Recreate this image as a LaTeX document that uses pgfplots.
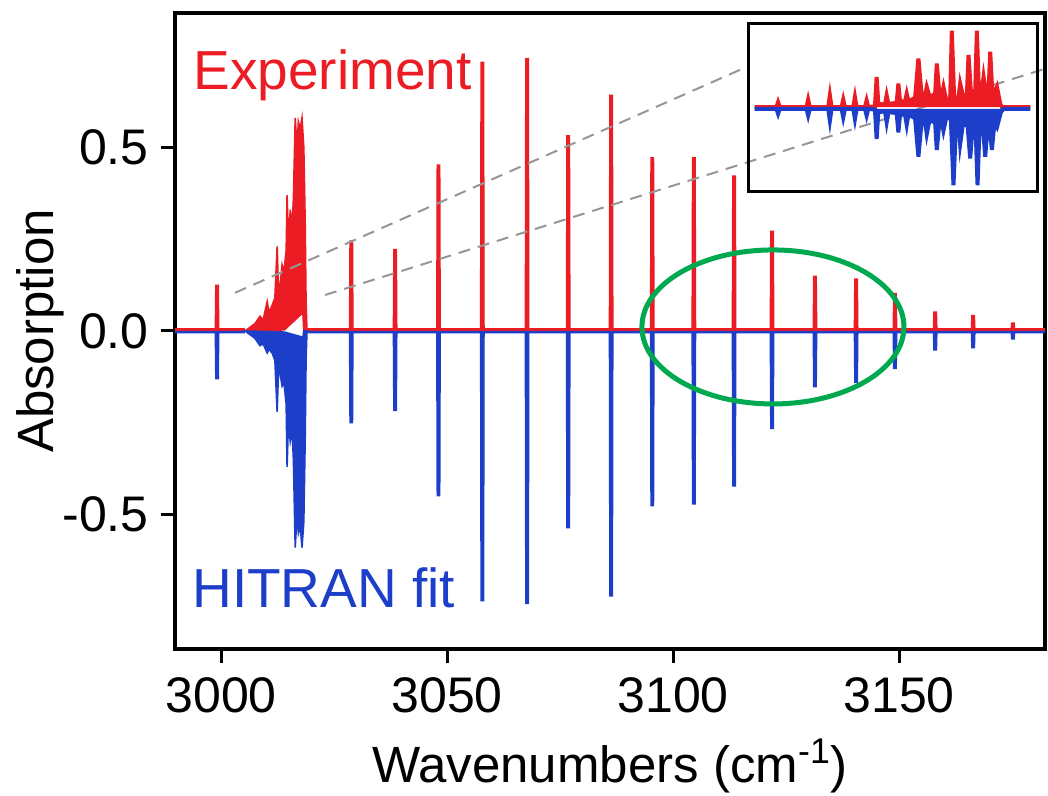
\documentclass[border=0pt]{standalone}
\usepackage{fontspec}
\setmainfont{Liberation Sans}
\usepackage{pgfplots}
\pgfplotsset{compat=1.18}
\definecolor{expred}{RGB}{236,28,36}
\definecolor{fitblue}{RGB}{28,62,200}
\definecolor{ringgreen}{RGB}{0,168,80}
\definecolor{dashgray}{RGB}{150,150,150}
\begin{document}
\begin{tikzpicture}
\begin{axis}[
  at={(0,0)}, anchor=south west,
  width=435pt, height=318pt, scale only axis,
  xmin=2989.8, xmax=3182.3, ymin=-0.866, ymax=0.866,
  xtick={3000,3050,3100,3150},
  xticklabels={3000,3050,3100,3150},
  ytick={-0.5,0,0.5},
  yticklabels={-0.5,0.0,0.5},
  tick pos=left, tick align=outside,
  major tick length=7pt,
  every tick/.style={black, line width=1.5pt},
  axis line style={line width=1.6pt},
  /pgf/number format/assume math mode=true,
  tick label style={font=\fontsize{25}{30}\selectfont, inner sep=0pt},
  xticklabel style={anchor=north, yshift=-7pt},
  yticklabel style={anchor=east, xshift=-6pt},
  xlabel={Wavenumbers (cm\textsuperscript{-1})},
  ylabel={Absorption},
  label style={font=\fontsize{25.5}{30}\selectfont, inner sep=0pt},
  xlabel style={at={(axis description cs:0.5,0)}, anchor=base, yshift=-66.5pt},
  ylabel style={at={(axis description cs:0,0.5)}, anchor=center, yshift=67.5pt},
  clip=false,
]
% experiment baseline and lines
\addplot[expred, line width=1.3pt] coordinates {
(2989.8,0.004) (2998.85,0.004) (2998.95,0.123) (2999.25,0.123) (2999.35,0.004) (3005.3,0.004)};
\addplot[expred, line width=1.3pt] coordinates {
(3019.0,0.004)
(3028.55,0.004) (3028.65,0.243) (3028.95,0.243) (3029.05,0.004)
(3038.25,0.004) (3038.35,0.220) (3038.65,0.220) (3038.75,0.004)
(3047.85,0.004) (3047.95,0.450) (3048.25,0.450) (3048.35,0.004)
(3057.55,0.004) (3057.65,0.730) (3057.95,0.730) (3058.05,0.004)
(3067.45,0.004) (3067.55,0.740) (3067.85,0.740) (3067.95,0.004)
(3076.55,0.004) (3076.65,0.530) (3076.95,0.530) (3077.05,0.004)
(3086.05,0.004) (3086.15,0.640) (3086.45,0.640) (3086.55,0.004)
(3095.15,0.004) (3095.25,0.470) (3095.55,0.470) (3095.65,0.004)
(3104.35,0.004) (3104.45,0.470) (3104.75,0.470) (3104.85,0.004)
(3113.25,0.004) (3113.35,0.420) (3113.65,0.420) (3113.75,0.004)
(3121.65,0.004) (3121.75,0.270) (3122.05,0.270) (3122.15,0.004)
(3131.15,0.004) (3131.25,0.147) (3131.55,0.147) (3131.65,0.004)
(3140.25,0.004) (3140.35,0.140) (3140.65,0.140) (3140.75,0.004)
(3148.85,0.004) (3148.95,0.100) (3149.25,0.100) (3149.35,0.004)
(3157.75,0.004) (3157.85,0.050) (3158.15,0.050) (3158.25,0.004)
(3166.15,0.004) (3166.25,0.040) (3166.55,0.040) (3166.65,0.004)
(3174.95,0.004) (3175.05,0.020) (3175.35,0.020) (3175.45,0.004)
(3182.3,0.004)};
% experiment Q-branch cluster
\addplot[expred, fill=expred, line width=0.8pt] coordinates {
(3005.3,0) (3006.4,0.01) (3007.5,0.02) (3008.6,0.04) (3009.3,0.03)
(3010.2,0.08) (3010.6,0.05) (3011.3,0.07) (3011.9,0.09) (3012.4,0.23)
(3012.7,0.11) (3013.1,0.13) (3013.5,0.18) (3013.9,0.16) (3014.4,0.22)
(3014.6,0.37) (3014.9,0.24) (3015.3,0.33) (3015.7,0.28) (3016.0,0.36)
(3016.4,0.58) (3016.8,0.50) (3017.1,0.57) (3017.5,0.55) (3017.9,0.58)
(3018.3,0.50) (3018.6,0.30) (3018.8,0.08) (3019.0,0)
(3018.3,0) (3018.1,0.05) (3014.0,0.003) (3005.3,0)} -- cycle;
% HITRAN baseline and lines
\addplot[fitblue, line width=1.3pt] coordinates {
(2989.8,-0.003) (2998.85,-0.003) (2998.95,-0.128) (2999.25,-0.128) (2999.35,-0.003) (3005.3,-0.003)};
\addplot[fitblue, line width=1.3pt] coordinates {
(3019.0,-0.003)
(3028.55,-0.003) (3028.65,-0.248) (3028.95,-0.248) (3029.05,-0.003)
(3038.25,-0.003) (3038.35,-0.215) (3038.65,-0.215) (3038.75,-0.003)
(3047.85,-0.003) (3047.95,-0.447) (3048.25,-0.447) (3048.35,-0.003)
(3057.55,-0.003) (3057.65,-0.733) (3057.95,-0.733) (3058.05,-0.003)
(3067.45,-0.003) (3067.55,-0.740) (3067.85,-0.740) (3067.95,-0.003)
(3076.55,-0.003) (3076.65,-0.534) (3076.95,-0.534) (3077.05,-0.003)
(3086.05,-0.003) (3086.15,-0.720) (3086.45,-0.720) (3086.55,-0.003)
(3095.15,-0.003) (3095.25,-0.474) (3095.55,-0.474) (3095.65,-0.003)
(3104.35,-0.003) (3104.45,-0.469) (3104.75,-0.469) (3104.85,-0.003)
(3113.25,-0.003) (3113.35,-0.420) (3113.65,-0.420) (3113.75,-0.003)
(3121.65,-0.003) (3121.75,-0.264) (3122.05,-0.264) (3122.15,-0.003)
(3131.15,-0.003) (3131.25,-0.150) (3131.55,-0.150) (3131.65,-0.003)
(3140.25,-0.003) (3140.35,-0.138) (3140.65,-0.138) (3140.75,-0.003)
(3148.85,-0.003) (3148.95,-0.100) (3149.25,-0.100) (3149.35,-0.003)
(3157.75,-0.003) (3157.85,-0.050) (3158.15,-0.050) (3158.25,-0.003)
(3166.15,-0.003) (3166.25,-0.044) (3166.55,-0.044) (3166.65,-0.003)
(3174.95,-0.003) (3175.05,-0.020) (3175.35,-0.020) (3175.45,-0.003)
(3182.3,-0.003)};
% HITRAN Q-branch cluster
\addplot[fitblue, fill=fitblue, line width=0.8pt] coordinates {
(3005.3,0) (3006.4,-0.01) (3007.5,-0.02) (3008.6,-0.04) (3009.3,-0.035)
(3010.2,-0.06) (3010.6,-0.05) (3011.3,-0.06) (3011.9,-0.08) (3012.4,-0.22)
(3012.7,-0.11) (3013.1,-0.12) (3013.5,-0.15) (3013.9,-0.14) (3014.4,-0.20)
(3014.6,-0.37) (3014.9,-0.25) (3015.3,-0.30) (3015.7,-0.27) (3016.0,-0.35)
(3016.4,-0.59) (3016.8,-0.50) (3017.1,-0.55) (3017.5,-0.53) (3017.9,-0.59)
(3018.3,-0.52) (3018.6,-0.30) (3018.8,-0.08) (3019.0,0)
(3018.3,0) (3018.1,-0.017) (3014.0,-0.003) (3005.3,0)} -- cycle;
% dashed guide lines to the inset
\addplot[dashgray, line width=1pt, dash pattern=on 6pt off 4pt] coordinates {(3003.1,0.104) (3115.9,0.717)};
\addplot[dashgray, line width=1pt, dash pattern=on 6pt off 4pt] coordinates {(3023.0,0.098) (3182.3,0.714)};
% annotation ellipse
\draw[ringgreen, line width=2.5pt] (axis cs:3122.1,0.011) ellipse [x radius=65.5pt, y radius=38.5pt];
% series labels
\node[anchor=base west, inner sep=0pt, text=expred, font=\fontsize{27.5}{30}\selectfont] at (axis description cs:0.0207,0.879) {Experiment};
\node[anchor=base west, inner sep=0pt, text=fitblue, font=\fontsize{27.5}{30}\selectfont] at (axis description cs:0.0195,0.066) {HITRAN fit};
\end{axis}
% inset
\begin{axis}[
  at={(286.5pt,228.5pt)}, anchor=south west,
  width=144.5pt, height=84pt, scale only axis,
  xmin=25, xmax=890, ymin=-1, ymax=1,
  ticks=none,
  axis line style={line width=1.5pt},
  clip=false,
]
\addplot[expred, fill=expred, line width=2pt] coordinates {
(45,0.01) (110,0.01) (115,0.07) (120,0.01) (200,0.01) (205,0.1) (210,0.01) (265,0.01) (270,0.15) (275,0.01)
(305,0.01) (310,0.1) (315,0.01) (340,0.01) (345,0.13) (350,0.01) (375,0.01) (380,0.09) (385,0.01)
(405,0.02) (410,0.37) (415,0.05) (435,0.04) (440,0.15) (445,0.05) (470,0.06) (475,0.29) (480,0.08)
(495,0.08) (500,0.17) (505,0.08) (525,0.12) (535,0.59) (545,0.14) (555,0.15) (560,0.25) (568,0.14)
(585,0.16) (590,0.53) (598,0.15) (605,0.15) (610,0.25) (618,0.1) (630,0.1) (635,0.92) (642,0.12)
(655,0.12) (660,0.29) (668,0.15) (680,0.15) (685,0.63) (692,0.2) (705,0.2) (710,0.92) (716,0.2)
(725,0.2) (730,0.37) (738,0.15) (745,0.2) (750,0.67) (756,0.2) (765,0.2) (770,0.25) (780,0.05)
(785,0.01) (870,0.01)};
\addplot[fitblue, fill=fitblue, line width=2pt] coordinates {
(45,-0.01) (110,-0.01) (115,-0.07) (120,-0.01) (200,-0.01) (205,-0.09) (210,-0.01) (265,-0.01) (270,-0.15) (275,-0.01)
(305,-0.01) (310,-0.11) (315,-0.01) (340,-0.01) (345,-0.13) (350,-0.01) (375,-0.01) (380,-0.09) (385,-0.01)
(405,-0.02) (410,-0.37) (415,-0.05) (435,-0.04) (440,-0.17) (445,-0.05) (470,-0.06) (475,-0.29) (480,-0.08)
(495,-0.08) (500,-0.20) (505,-0.08) (525,-0.12) (535,-0.58) (545,-0.15) (555,-0.16) (560,-0.31) (568,-0.15)
(585,-0.17) (590,-0.50) (598,-0.16) (605,-0.16) (610,-0.27) (618,-0.12) (632,-0.12) (640,-0.92) (648,-0.15)
(655,-0.15) (660,-0.43) (668,-0.2) (682,-0.2) (690,-0.60) (697,-0.22) (706,-0.22) (712,-0.92) (718,-0.22)
(728,-0.22) (735,-0.58) (742,-0.22) (748,-0.22) (755,-0.50) (762,-0.2) (765,-0.2) (770,-0.23) (782,-0.05)
(790,-0.01) (870,-0.01)};
\end{axis}
\pgfresetboundingbox
\path (-87.5pt,-73.5pt) rectangle (436.5pt,324.5pt);
\end{tikzpicture}
\end{document}
